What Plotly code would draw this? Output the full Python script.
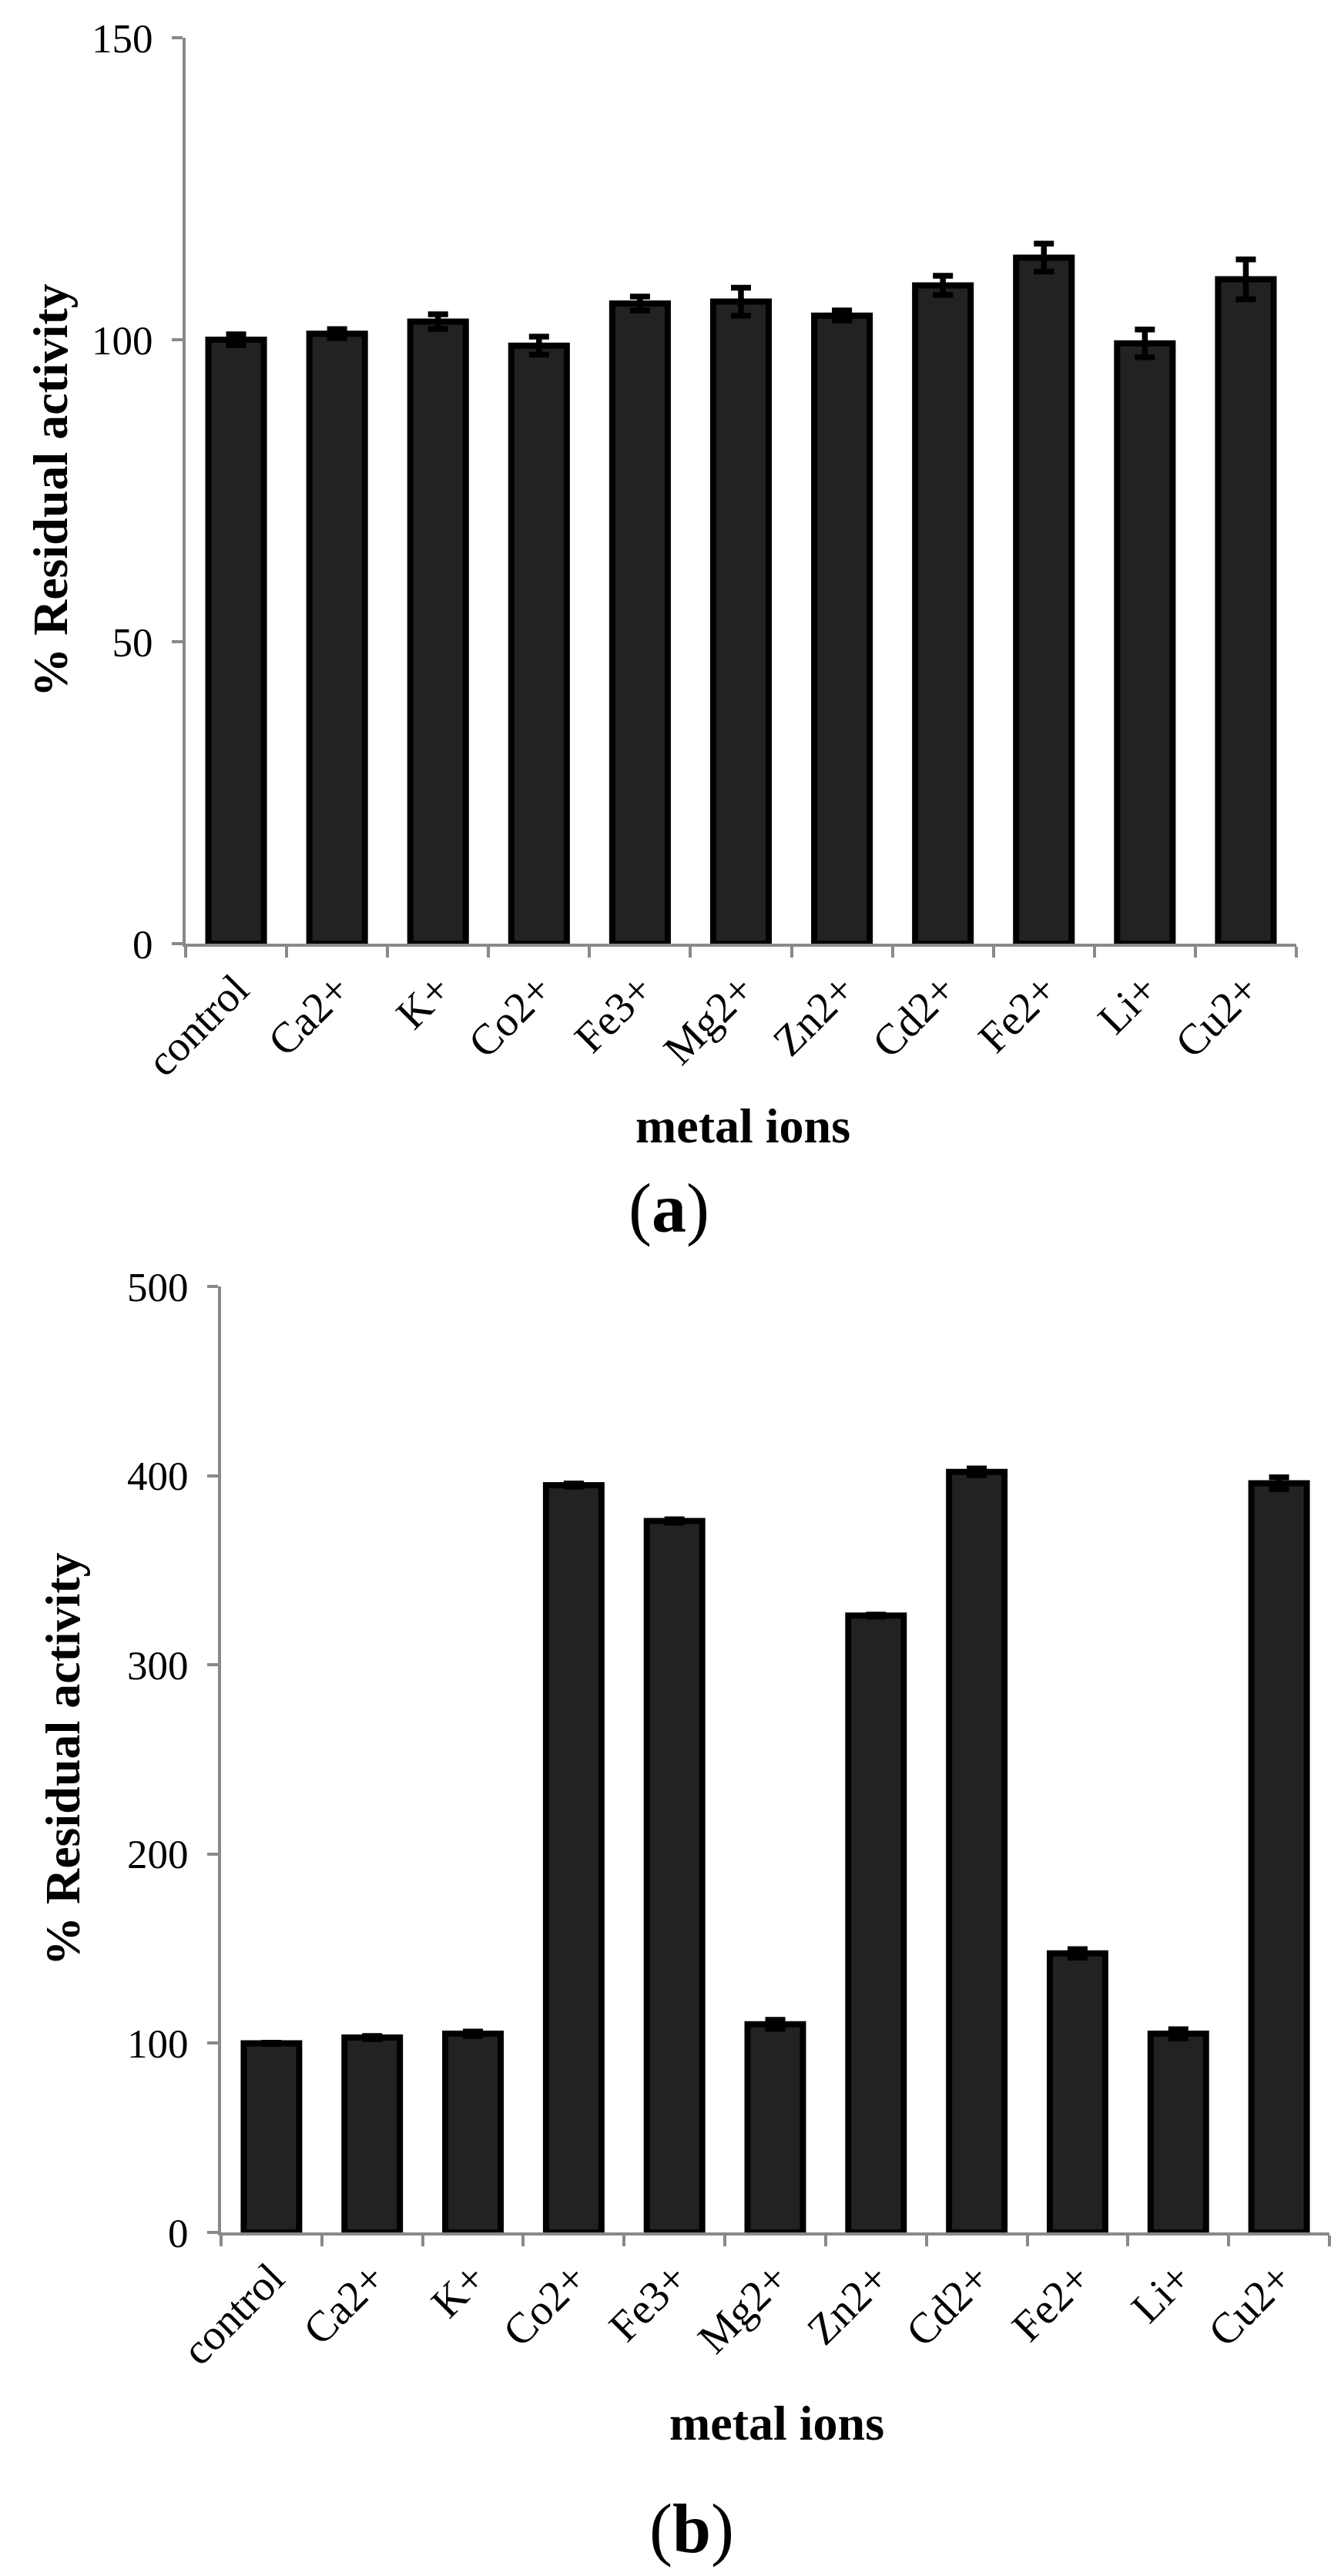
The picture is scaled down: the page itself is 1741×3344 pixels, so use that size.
import plotly.graph_objects as go

# ------------------------------------------------------------
# Dati
# ------------------------------------------------------------
ions = ["control", "Ca2+", "K+", "Co2+", "Fe3+", "Mg2+",
        "Zn2+", "Cd2+", "Fe2+", "Li+", "Cu2+"]

# pannello (a)
activity_a = [100, 101, 103, 99, 106, 106.3, 104, 109, 113.6, 99.4, 110]
error_a = [0.9, 0.75, 1.2, 1.5, 1.15, 2.3, 0.85, 1.6, 2.3, 2.3, 3.3]

# pannello (b)
activity_b = [100, 103, 105, 395, 376, 110, 326, 402, 147.5, 105, 396]
error_b = [0.3, 0.8, 1.2, 0.9, 0.9, 2.4, 0.5, 1.8, 2.2, 2.4, 3.1]

y_ticks_a = [0, 50, 100, 150]
y_ticks_b = [0, 100, 200, 300, 400, 500]

# ------------------------------------------------------------
# Stile
# ------------------------------------------------------------
W, H = 1741, 3344
FONT = "Liberation Serif"
GRIGIO = "#898989"
BARRA = "#222222"


def px_x(x):
    return x / W


def px_y(y):
    return 1 - y / H


def barre(y, err, xa, ya):
    return go.Bar(
        x=ions, y=y, xaxis=xa, yaxis=ya,
        width=0.55,
        marker=dict(color=BARRA, line=dict(color="black", width=8)),
        error_y=dict(type="data", array=err, visible=True,
                     color="black", thickness=7.5, width=13),
        showlegend=False,
    )


fig = go.Figure()
fig.add_trace(barre(activity_a, error_a, "x", "y"))
fig.add_trace(barre(activity_b, error_b, "x2", "y2"))

asse_x = dict(
    type="category",
    automargin=False,
    showline=True, linecolor=GRIGIO, linewidth=4,
    ticks="outside", tickson="boundaries", ticklen=14,
    tickcolor=GRIGIO, tickwidth=4,
    tickangle=-45,
    tickfont=dict(family=FONT, size=56, color="black"),
    showgrid=False, zeroline=False, fixedrange=True,
)

asse_y = dict(
    automargin=False,
    showline=True, linecolor=GRIGIO, linewidth=4,
    ticks="outside", ticklen=14, tickcolor=GRIGIO, tickwidth=4,
    tickfont=dict(family=FONT, size=53, color="black"),
    ticklabelstandoff=14,
    showgrid=False, zeroline=False, fixedrange=True,
)

fig.update_layout(
    template="none",
    width=W, height=H,
    autosize=False,
    margin=dict(l=0, r=0, t=0, b=0, pad=0),
    paper_bgcolor="white",
    plot_bgcolor="white",
    bargap=0.45,
    xaxis=dict(asse_x, domain=[px_x(233), px_x(1675)], anchor="y"),
    yaxis=dict(asse_y, domain=[px_y(1217), px_y(41)], anchor="x",
               range=[0, 150], tickvals=y_ticks_a),
    xaxis2=dict(asse_x, domain=[px_x(279), px_x(1718)], anchor="y2"),
    yaxis2=dict(asse_y, domain=[px_y(2890), px_y(1662)], anchor="x2",
                range=[0, 500], tickvals=y_ticks_b),
)

# titoli e etichette dei pannelli
testi = [
    ("<b>% Residual activity</b>", 57, 629, 64, -90),
    ("<b>% Residual activity</b>", 73, 2276, 64, -90),
    ("<b>metal ions</b>", 956, 1454, 64, 0),
    ("<b>metal ions</b>", 1000, 3137, 64, 0),
    ("(<b>a</b>)", 860, 1561, 90, 0),
    ("(<b>b</b>)", 890, 3275, 90, 0),
]
for testo, x, y, size, ang in testi:
    fig.add_annotation(
        text=testo, xref="paper", yref="paper",
        x=px_x(x), y=px_y(y), xanchor="center", yanchor="middle",
        showarrow=False, textangle=ang,
        font=dict(family=FONT, size=size, color="black"),
    )

fig.write_html("out.html")
